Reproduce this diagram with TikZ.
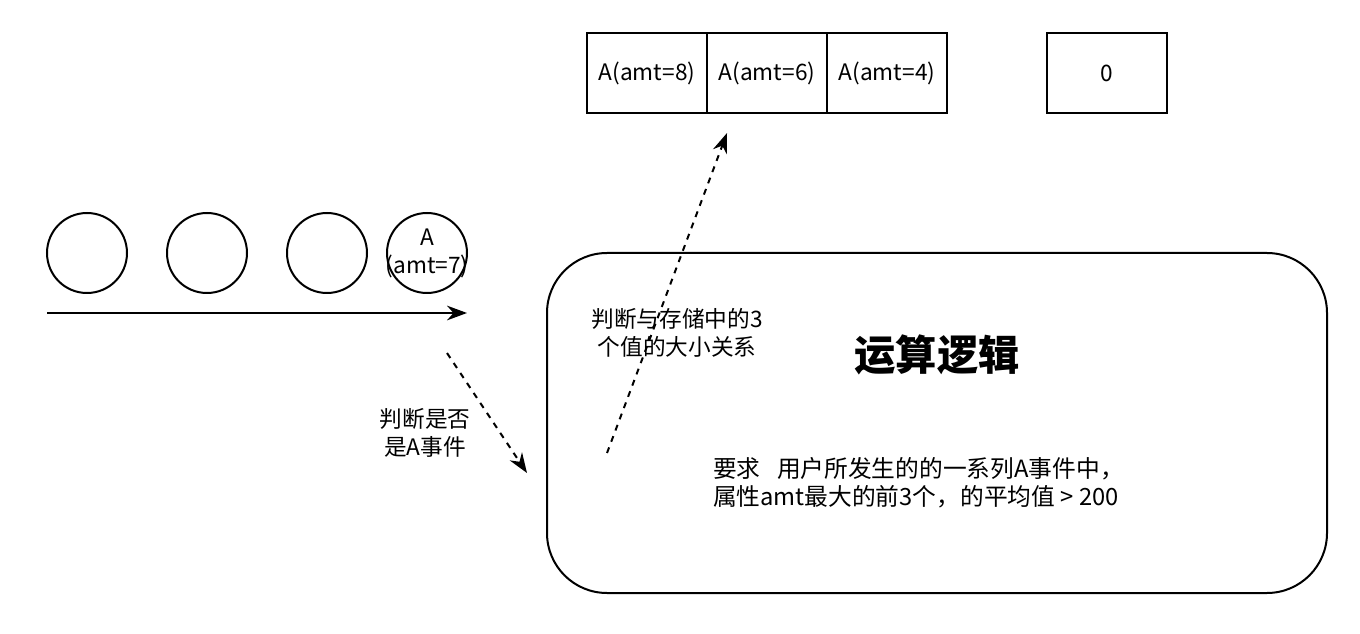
\documentclass[tikz,border=0pt]{standalone}
\usepackage{fontspec}
\setmainfont{Noto Sans CJK SC}
\usetikzlibrary{arrows.meta, positioning}

\begin{document}
\begin{tikzpicture}[x=0.75pt, y=-0.75pt, line width=1.5pt,
    >={Stealth[length=15pt, width=11pt]},
    font=\fontsize{17}{21}\selectfont]
    \tikzset{
        event/.style={circle, draw, minimum size=60pt, inner sep=0pt},
        slot/.style={draw, minimum width=90pt, minimum height=60pt, inner sep=0pt, outer sep=0pt},
        flow/.style={->, dash pattern=on 4.5pt off 4.5pt},
        note/.style={align=center, inner sep=0pt}
    }
    \useasboundingbox (0,0) rectangle (1360,634);

    % event stream
    \node[event] (e1) at (87,253) {};
    \node[event] (e2) at (207,253) {};
    \node[event] (e3) at (327,253) {};
    \node[event] (e4) at (427,253) {};
    \node[note] (e4txt) at (e4) {A\\(amt=7)};
    \coordinate (t0) at (47,313);
    \coordinate (t1) at (467,313);
    \draw[->] (t0) -- (t1);

    % storage
    \node[slot] (s1) at (647,73) {A(amt=8)};
    \node[slot, right=0pt of s1] (s2) {A(amt=6)};
    \node[slot, right=0pt of s2] (s3) {A(amt=4)};
    \node[slot] (sum) at (1107,73) {0};

    % logic box
    \node[draw, rounded corners=45pt, minimum width=585pt, minimum height=255pt] (logic) at (937,423) {};
    \node[font=\fontsize{31}{36}\selectfont\bfseries] (title) at (937,355) {运算逻辑};
    \node[align=left, anchor=west, inner sep=0pt, font=\fontsize{17.8}{21}\selectfont] (req) at (712,483)
        {要求\hspace{0.7em}用户所发生的的一系列A事件中，\\属性amt最大的前3个，的平均值 > 200};

    % checks
    \coordinate (d1a) at (447,353);
    \coordinate (d1b) at (527,473);
    \draw[flow] (d1a) -- (d1b);
    \node[note] (isA) at (425,433) {判断是否\\是A事件};

    \coordinate (d2a) at (607,453);
    \coordinate (d2b) at (727,133);
    \draw[flow] (d2a) -- (d2b);
    \node[note] (cmp) at (677,333) {判断与存储中的3\\个值的大小关系};
\end{tikzpicture}
\end{document}
